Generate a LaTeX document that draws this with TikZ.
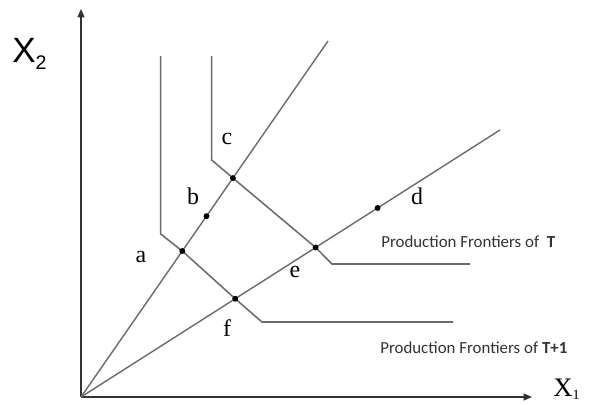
\documentclass[tikz,border=0pt]{standalone}
\usepackage{fontspec}
\setmainfont{Liberation Serif}
\newfontfamily\arialf{Liberation Sans}
\newfontfamily\calib{Carlito}
\usetikzlibrary{calc,arrows.meta}
\begin{document}
\begin{tikzpicture}[x=0.025cm,y=-0.025cm,
  axis/.style={draw=black!80,line width=0.9pt,-{Triangle[length=6pt,width=5pt]}},
  ray/.style={draw=black!58,line width=1pt},
  front/.style={draw=black!58,line width=1.1pt,line join=miter},
  pt/.style={circle,fill=black,inner sep=0pt,minimum size=4.2pt},
  lab/.style={font=\fontsize{17}{17}\selectfont,inner sep=0pt},
  ftext/.style={font=\calib\fontsize{12}{12}\selectfont,anchor=base west,inner sep=0pt,text=black!80}]
\useasboundingbox (0,0) rectangle (598,404);
\coordinate (O) at (81,397);
\coordinate (Ytop) at (81,9);
\coordinate (Xend) at (532,397);
\coordinate (R1) at (328,41);
\coordinate (R2) at (500,130);
% axes
\draw[axis] (O) -- (Ytop);
\draw[axis] (O) -- (Xend);
% rays
\draw[ray] (O) -- (R1);
\draw[ray] (O) -- (R2);
% points on rays
\coordinate (A) at ($(O)!0.410!(R1)$);
\coordinate (B) at ($(O)!0.508!(R1)$);
\coordinate (C) at ($(O)!0.615!(R1)$);
\coordinate (F) at ($(O)!0.368!(R2)$);
\coordinate (E) at ($(O)!0.560!(R2)$);
\coordinate (D) at ($(O)!0.708!(R2)$);
% frontier T
\coordinate (T1) at (211.7,56);
\coordinate (T2) at (211.7,160);
\coordinate (T3) at (332,264);
\coordinate (T4) at (470,264);
\draw[front] (T1) -- (T2) -- (C) -- (E) -- (T3) -- (T4);
% frontier T+1
\coordinate (S1) at (160.7,56);
\coordinate (S2) at (160.7,234);
\coordinate (S3) at (262,322);
\coordinate (S4) at (453,322);
\draw[front] (S1) -- (S2) -- (A) -- (F) -- (S3) -- (S4);
% dots
\foreach \p in {A,B,C,D,E,F} \node[pt] (dot\p) at (\p) {};
% labels
\node[lab] (la) at (141,257) {a};
\node[lab] (lb) at (193,196) {b};
\node[lab] (lc) at (227,139) {c};
\node[lab] (ld) at (417,196) {d};
\node[lab] (le) at (295,272) {e};
\node[lab] (lf) at (227,328) {f};
% axis labels
\node[anchor=base west,inner sep=0pt,font=\arialf\fontsize{25}{25}\selectfont] (x2) at (12,62) {X\raisebox{-5.5pt}{\fontsize{14}{14}\selectfont 2}};
\node[anchor=base west,inner sep=0pt,font=\fontsize{19}{19}\selectfont] (x1) at (553,396) {X\raisebox{-2.5pt}{\fontsize{10}{10}\selectfont 1}};
% frontier texts
\node[ftext] (tT) at (381,247) {Production Frontiers of\ \ \textbf{T}};
\node[ftext] (tT1) at (380,353) {Production Frontiers of \textbf{T+1}};
\end{tikzpicture}
\end{document}
